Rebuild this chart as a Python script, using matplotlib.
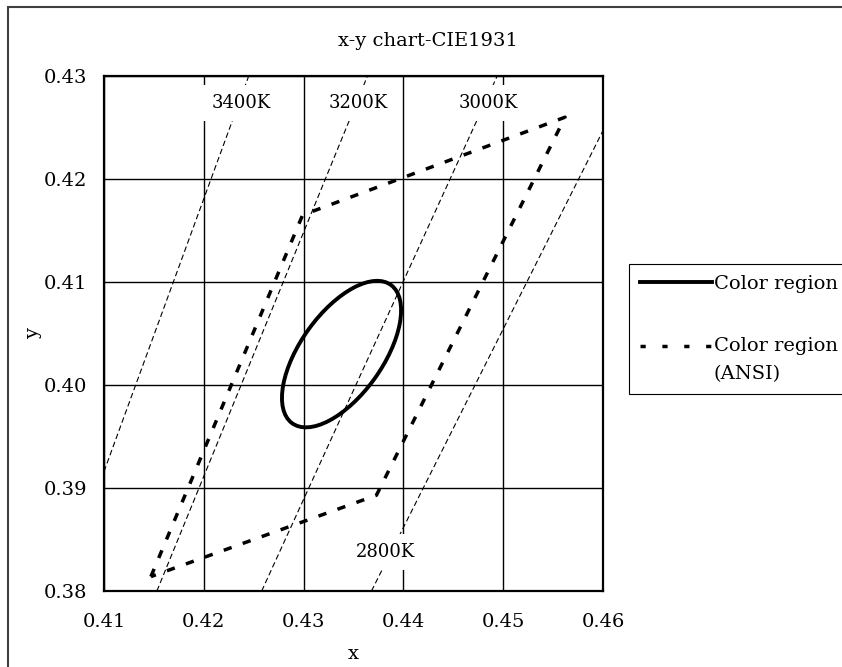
import matplotlib
matplotlib.use("Agg")
import matplotlib.pyplot as plt
from matplotlib.patches import Ellipse, Rectangle

plt.rcParams['font.family'] = ['DejaVu Serif']

# axis ticks
x_ticks = [0.41, 0.42, 0.43, 0.44, 0.45, 0.46]
y_ticks = [0.38, 0.39, 0.40, 0.41, 0.42, 0.43]

# ANSI quadrangle (3000K), closed
ansi_x = [0.4147, 0.4299, 0.4562, 0.4373, 0.4147]
ansi_y = [0.3814, 0.4165, 0.4260, 0.3893, 0.3814]

# color region ellipse
ell_center = (0.4338, 0.4030)
ell_a = 0.00834
ell_b = 0.00408
ell_angle = 53.22

# isotherm lines (start / end points)
cct_names = ['3400K', '3200K', '3000K', '2800K']
cct_x = [[0.4100, 0.4245], [0.4153, 0.4364], [0.4258, 0.4494], [0.4368, 0.4600]]
cct_y = [[0.3916, 0.4300], [0.3800, 0.4300], [0.3800, 0.4300], [0.3800, 0.4247]]
cct_label_x = [0.4238, 0.4355, 0.4485, 0.4382]
cct_label_y = [0.4274, 0.4274, 0.4274, 0.3838]

fig = plt.figure(figsize=(8.42, 6.67), dpi=100)
ax = fig.add_axes([104 / 842, 76 / 667, 499 / 842, 515 / 667])

# isotherms with white-boxed labels
for i, name in enumerate(cct_names):
    ax.plot(cct_x[i], cct_y[i], color='black', lw=0.8,
            linestyle=(0, (5.0, 2.8)), zorder=2)
    ax.text(cct_label_x[i], cct_label_y[i], name, ha='center', va='center',
            fontsize=13, zorder=4,
            bbox=dict(boxstyle='square,pad=0.5', fc='white', ec='none'))

ax.plot(ansi_x, ansi_y, color='black', lw=2.5, linestyle=(0, (2.4, 3.4)),
        zorder=3)
ax.add_patch(Ellipse(ell_center, 2 * ell_a, 2 * ell_b, angle=ell_angle,
                     fill=False, ec='black', lw=2.8, zorder=3))

ax.set_xlim(x_ticks[0], x_ticks[-1])
ax.set_ylim(y_ticks[0], y_ticks[-1])
ax.set_xticks(x_ticks)
ax.set_yticks(y_ticks)
ax.set_xticklabels(['{:.2f}'.format(v) for v in x_ticks])
ax.set_yticklabels(['{:.2f}'.format(v) for v in y_ticks])
ax.tick_params(length=0, labelsize=14)
ax.tick_params(axis='x', pad=16)
ax.tick_params(axis='y', pad=12)
ax.grid(True, color='black', lw=1.0)
ax.set_axisbelow(True)
for s in ax.spines.values():
    s.set_linewidth(1.6)

ax.set_xlabel('x', fontsize=14)
ax.xaxis.set_label_coords(0.5, (591 - 654) / 515)
ax.xaxis.label.set_va('center')
ax.set_ylabel('y', fontsize=14)
ax.yaxis.set_label_coords((33 - 104) / 499, 0.5)
ax.yaxis.label.set_va('center')

fig.text(428 / 842, 1 - 41 / 667, 'x-y chart-CIE1931', ha='center',
         va='center', fontsize=14)

# legend (proxy handles)
h1, = ax.plot([], [], color='black', lw=2.8, label='Color region')
h2, = ax.plot([], [], color='black', lw=2.5, linestyle=(0, (1.5, 4.8)),
              label='Color region\n(ANSI)')
leg = fig.legend(handles=[h1, h2], loc='upper left',
                 bbox_to_anchor=(629 / 842, 1 - 264 / 667), borderaxespad=0,
                 fontsize=14, fancybox=False, edgecolor='black', framealpha=1,
                 handlelength=3.7, handletextpad=0.1, labelspacing=2.3,
                 borderpad=0.55)
leg.get_frame().set_linewidth(0.8)
leg.get_texts()[1].set_linespacing(1.7)
# put the dashed sample next to the first line of its label
ansi_handle = leg.legend_handles[1]
ansi_handle.set_ydata([y + 10.5 for y in ansi_handle.get_ydata()])

# chart area border (cropped on the right and bottom)
fig.patches.append(Rectangle((8 / 842, -0.05), 1.2, 1 - 7 / 667 + 0.05,
                             transform=fig.transFigure, fill=False,
                             ec='#404040', lw=1.5, clip_on=False))

fig.savefig('out.png', dpi=100)
